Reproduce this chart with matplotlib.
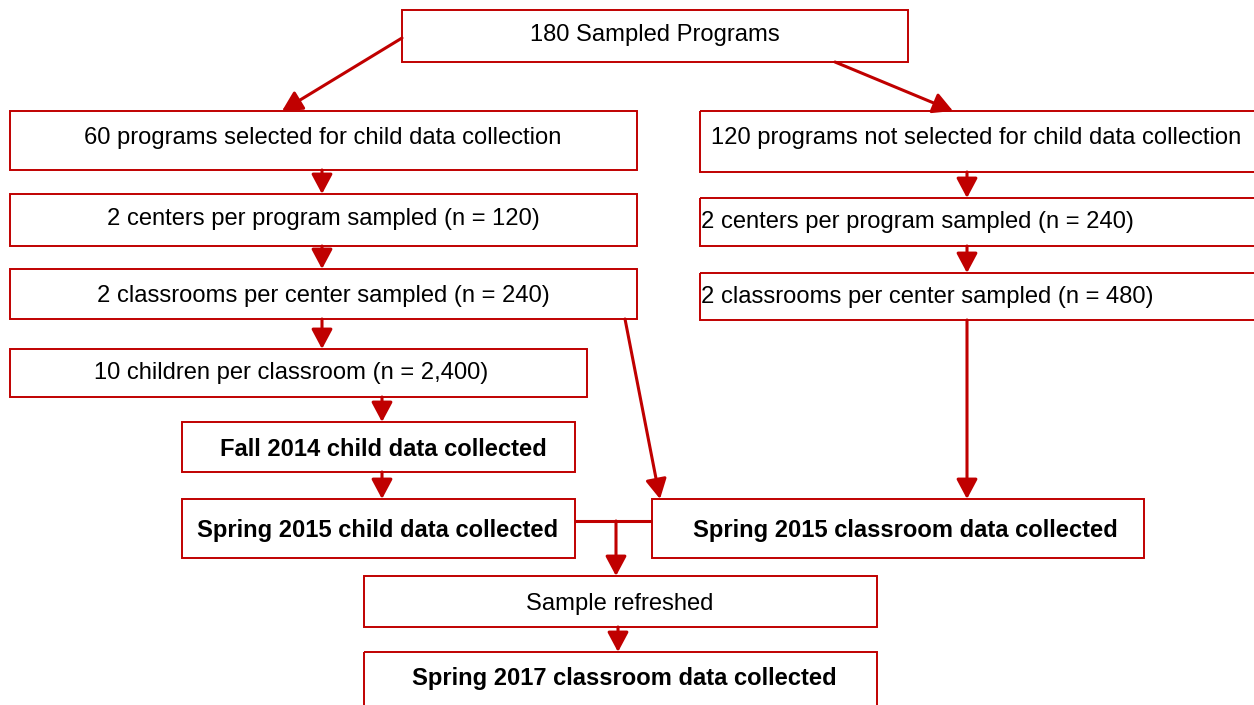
import matplotlib.pyplot as plt
from matplotlib.patches import Rectangle, FancyArrowPatch

plt.rcParams['font.family'] = ['Liberation Sans', 'DejaVu Sans']

# box labels (text, bold?)
labels = [
    "180 Sampled Programs",
    "60 programs selected for child data collection",
    "120 programs not selected for child data collection",
    "2 centers per program sampled (n = 120)",
    "2 centers per program sampled (n = 240)",
    "2 classrooms per center sampled (n = 240)",
    "2 classrooms per center sampled (n = 480)",
    "10 children per classroom (n = 2,400)",
    "Fall 2014 child data collected",
    "Spring 2015 child data collected",
    "Spring 2015 classroom data collected",
    "Sample refreshed",
    "Spring 2017 classroom data collected",
]
bold = [False, False, False, False, False, False, False, False, True, True, True, False, True]

# layout in pixel coords: x0, y0, x1, y1 of each box, then text anchor
boxes = [
    (402, 10, 908, 62), (10, 111, 637, 170), (700, 111, 1262, 172),
    (10, 194, 637, 246), (700, 198, 1262, 246), (10, 269, 637, 319),
    (700, 273, 1262, 320), (10, 349, 587, 397), (182, 422, 575, 472),
    (182, 499, 575, 558), (652, 499, 1144, 558), (364, 576, 877, 627),
    (364, 652, 877, 715),
]
text_pos = [
    (655, 33, 'center'), (323, 136, 'center'), (976, 136, 'center'),
    (323, 217, 'center'), (701, 220, 'left'), (323, 294, 'center'),
    (701, 295, 'left'), (291, 371, 'center'), (383, 447, 'center'),
    (378, 529, 'center'), (905, 529, 'center'), (620, 602, 'center'),
    (624, 676, 'center'),
]
arrows = [
    ((402, 38), (282, 111)), ((835, 62), (953, 111)),
    ((322, 170), (322, 194)), ((967, 172), (967, 198)),
    ((322, 246), (322, 269)), ((967, 246), (967, 273)),
    ((322, 319), (322, 349)), ((967, 320), (967, 499)),
    ((625, 319), (660, 499)), ((382, 397), (382, 422)),
    ((382, 472), (382, 499)), ((616, 521), (616, 576)),
    ((618, 627), (618, 652)),
]
red = '#C00000'

fig = plt.figure(figsize=(12.54, 7.05), dpi=100)
ax = fig.add_axes([0, 0, 1, 1])
ax.set_xlim(0, 1254)
ax.set_ylim(705, 0)
ax.axis('off')

for (x0, y0, x1, y1), lab, b, (tx, ty, ha) in zip(boxes, labels, bold, text_pos):
    ax.add_patch(Rectangle((x0, y0), x1 - x0, y1 - y0, fill=False, ec=red, lw=1.4))
    ax.text(tx, ty + 2, lab, ha=ha, va='center', fontsize=17.1,
            fontweight='bold' if b else 'normal', color='black')

# horizontal connector between the two spring 2015 boxes
ax.plot([575, 652], [521, 521], color=red, lw=2.2, solid_capstyle='butt')

for p0, p1 in arrows:
    ax.add_patch(FancyArrowPatch(p0, p1, arrowstyle='-|>,head_length=0.6,head_width=0.32',
                                 mutation_scale=20, color=red, lw=2.2,
                                 shrinkA=0, shrinkB=0))

fig.savefig('out.png', dpi=100)
